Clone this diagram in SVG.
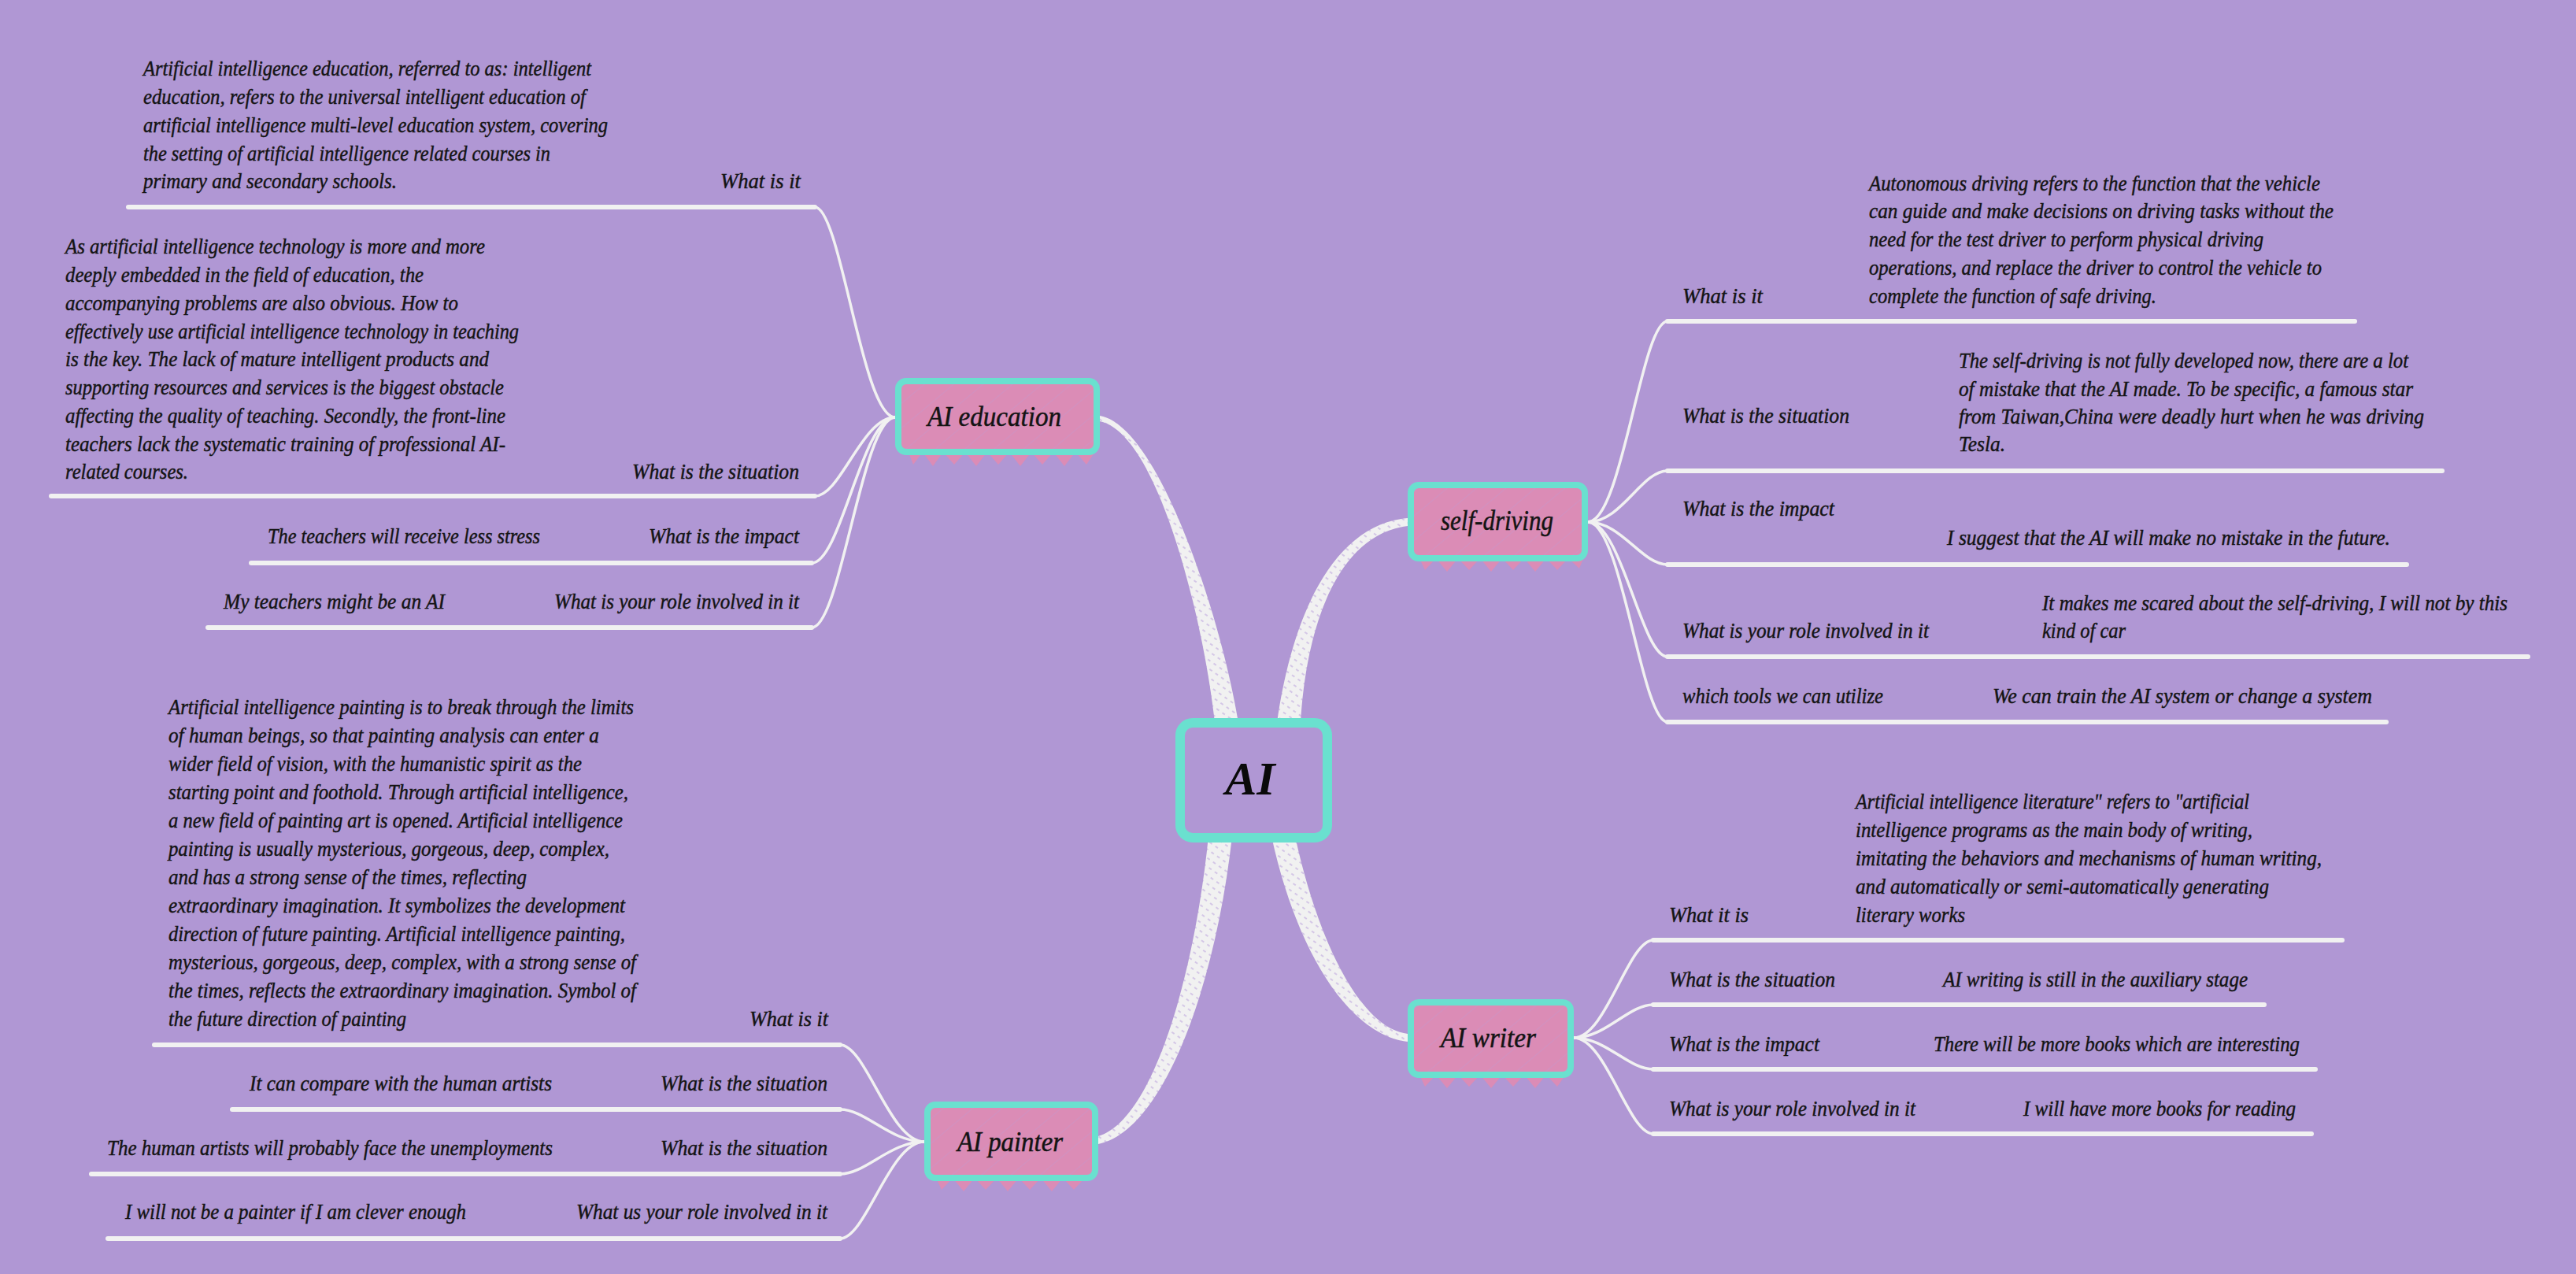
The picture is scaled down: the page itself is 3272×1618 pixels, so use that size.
<svg xmlns="http://www.w3.org/2000/svg" width="3272" height="1618" viewBox="0 0 3272 1618">
<style>
.t{font-family:"Liberation Serif","DejaVu Serif",serif;font-style:italic;font-size:27px;fill:#141414;stroke:#141414;stroke-width:0.45}
.n{font-family:"Liberation Serif","DejaVu Serif",serif;font-style:italic;font-size:36px;fill:#141414;stroke:#141414;stroke-width:0.5}
.c{font-family:"Liberation Serif","DejaVu Serif",serif;font-style:italic;font-weight:bold;font-size:60px;fill:#0a0a0a}
.ul{stroke:#f1f1f1;stroke-width:6;stroke-linecap:round;fill:none}
.fan{stroke:#f1f1f1;stroke-width:3.5;fill:none;stroke-linecap:round}
.main{fill:url(#hatch)}
.frame{stroke:#6ae0cf;stroke-width:8;fill:url(#pink)}
.teeth{fill:#db8cb6}
</style>
<defs>
<pattern id="hatch" patternUnits="userSpaceOnUse" width="9" height="9" patternTransform="rotate(35)">
<rect width="9" height="9" fill="#f1f1f1"/>
<line x1="0" y1="4" x2="4" y2="4" stroke="#c4b0e0" stroke-width="1.3"/>
</pattern>
<pattern id="pink" patternUnits="userSpaceOnUse" width="24" height="24" patternTransform="rotate(-40)">
<rect width="24" height="24" fill="#db8cb6"/>
<line x1="0" y1="0" x2="24" y2="0" stroke="#c996c8" stroke-width="1.2"/>
</pattern>
</defs>
<rect width="3272" height="1618" fill="#b097d4"/>

<g id="connectors">
<path class="main" d="M1397,528 C1470,540 1550,778 1573,918 L1543,918 C1528,782 1470,550 1397,535 Z"/>
<path class="main" d="M1788,658 C1696,666 1642,776 1622,918 L1652,918 C1660,784 1704,678 1788,668 Z"/>
<path class="main" d="M1535,1062 C1516,1248 1462,1424 1395,1443 L1395,1453 C1478,1436 1544,1252 1565,1062 Z"/>
<path class="main" d="M1615,1062 C1646,1205 1712,1314 1788,1323 L1788,1313 C1728,1306 1674,1195 1645,1062 Z"/>
<path class="fan" d="M1137,530 C1095,530 1068,263 1035,263"/>
<path class="fan" d="M1137,530 C1095,530 1068,630 1035,630"/>
<path class="fan" d="M1137,530 C1095,530 1068,715 1031,715"/>
<path class="fan" d="M1137,530 C1095,530 1068,797 1031,797"/>
<path class="fan" d="M2017,663 C2060,663 2085,408 2118,408"/>
<path class="fan" d="M2017,663 C2060,663 2085,598 2118,598"/>
<path class="fan" d="M2017,663 C2060,663 2085,717 2118,717"/>
<path class="fan" d="M2017,663 C2060,663 2085,834 2118,834"/>
<path class="fan" d="M2017,663 C2060,663 2085,917 2118,917"/>
<path class="fan" d="M1999,1318 C2040,1318 2068,1194 2100,1194"/>
<path class="fan" d="M1999,1318 C2040,1318 2068,1276 2100,1276"/>
<path class="fan" d="M1999,1318 C2040,1318 2068,1358 2100,1358"/>
<path class="fan" d="M1999,1318 C2040,1318 2068,1440 2100,1440"/>
<path class="fan" d="M1174,1450 C1130,1450 1100,1327 1067,1327"/>
<path class="fan" d="M1174,1450 C1130,1450 1100,1409 1067,1409"/>
<path class="fan" d="M1174,1450 C1130,1450 1100,1491 1067,1491"/>
<path class="fan" d="M1174,1450 C1130,1450 1100,1573 1067,1573"/>
</g>

<g id="node-ai">
<rect x="1499" y="918" width="187" height="146" rx="16" fill="#b097d4" stroke="#6ae0cf" stroke-width="12"/>
<text class="c" x="1588" y="1009" text-anchor="middle">AI</text>
</g>

<g id="node-education">
<polygon class="teeth" points="1153,572 1160,590 1172,574 1185,592 1198,574 1212,590 1226,574 1240,592 1254,574 1268,590 1282,574 1296,592 1310,574 1324,590 1338,574 1352,592 1366,574 1380,590 1392,572"/>
<rect class="frame" x="1141" y="484" width="252" height="90" rx="10"/>
<text class="n" x="1178" y="541" textLength="170" lengthAdjust="spacingAndGlyphs">AI education</text>
</g>

<g id="node-self-driving">
<polygon class="teeth" points="1802,707 1810,724 1824,709 1838,726 1852,709 1866,724 1880,709 1894,726 1908,709 1922,724 1936,709 1950,726 1964,709 1978,724 1992,709 2006,722 2012,707"/>
<rect class="frame" x="1792" y="616" width="221" height="93" rx="10"/>
<text class="n" x="1830" y="673" textLength="143" lengthAdjust="spacingAndGlyphs">self-driving</text>
</g>

<g id="node-writer">
<polygon class="teeth" points="1802,1363 1810,1380 1824,1365 1838,1382 1852,1365 1866,1380 1880,1365 1894,1382 1908,1365 1922,1380 1936,1365 1950,1382 1964,1365 1978,1380 1990,1363"/>
<rect class="frame" x="1792" y="1273" width="203" height="92" rx="10"/>
<text class="n" x="1830" y="1330" textLength="121" lengthAdjust="spacingAndGlyphs">AI writer</text>
</g>

<g id="node-painter">
<polygon class="teeth" points="1188,1494 1196,1511 1210,1496 1224,1513 1238,1496 1252,1511 1266,1496 1280,1513 1294,1496 1308,1511 1322,1496 1336,1513 1350,1496 1364,1511 1378,1496 1388,1494"/>
<rect class="frame" x="1178" y="1403" width="213" height="93" rx="10"/>
<text class="n" x="1216" y="1462" textLength="134" lengthAdjust="spacingAndGlyphs">AI painter</text>
</g>

<!-- AI education children -->
<g id="edu-what-is-it">
<path class="ul" d="M163,263 L1035,263"/>
<text class="t" x="915" y="239" textLength="102" lengthAdjust="spacingAndGlyphs">What is it</text>
<text class="t" x="182" y="96" textLength="569" lengthAdjust="spacingAndGlyphs">Artificial intelligence education, referred to as: intelligent</text>
<text class="t" x="182" y="132" textLength="562" lengthAdjust="spacingAndGlyphs">education, refers to the universal intelligent education of</text>
<text class="t" x="182" y="168" textLength="590" lengthAdjust="spacingAndGlyphs">artificial intelligence multi-level education system, covering</text>
<text class="t" x="182" y="204" textLength="517" lengthAdjust="spacingAndGlyphs">the setting of artificial intelligence related courses in</text>
<text class="t" x="182" y="239" textLength="322" lengthAdjust="spacingAndGlyphs">primary and secondary schools.</text>
</g>
<g id="edu-situation">
<path class="ul" d="M65,630 L1035,630"/>
<text class="t" x="803" y="608" textLength="212" lengthAdjust="spacingAndGlyphs">What is the situation</text>
<text class="t" x="83" y="322" textLength="533" lengthAdjust="spacingAndGlyphs">As artificial intelligence technology is more and more</text>
<text class="t" x="83" y="358" textLength="455" lengthAdjust="spacingAndGlyphs">deeply embedded in the field of education, the</text>
<text class="t" x="83" y="394" textLength="499" lengthAdjust="spacingAndGlyphs">accompanying problems are also obvious. How to</text>
<text class="t" x="83" y="430" textLength="576" lengthAdjust="spacingAndGlyphs">effectively use artificial intelligence technology in teaching</text>
<text class="t" x="83" y="465" textLength="538" lengthAdjust="spacingAndGlyphs">is the key. The lack of mature intelligent products and</text>
<text class="t" x="83" y="501" textLength="557" lengthAdjust="spacingAndGlyphs">supporting resources and services is the biggest obstacle</text>
<text class="t" x="83" y="537" textLength="559" lengthAdjust="spacingAndGlyphs">affecting the quality of teaching. Secondly, the front-line</text>
<text class="t" x="83" y="573" textLength="559" lengthAdjust="spacingAndGlyphs">teachers lack the systematic training of professional AI-</text>
<text class="t" x="83" y="608" textLength="156" lengthAdjust="spacingAndGlyphs">related courses.</text>
</g>
<g id="edu-impact">
<path class="ul" d="M319,715 L1031,715"/>
<text class="t" x="824" y="690" textLength="191" lengthAdjust="spacingAndGlyphs">What is the impact</text>
<text class="t" x="340" y="690" textLength="346" lengthAdjust="spacingAndGlyphs">The teachers will receive less stress</text>
</g>
<g id="edu-role">
<path class="ul" d="M264,797 L1031,797"/>
<text class="t" x="704" y="773" textLength="311" lengthAdjust="spacingAndGlyphs">What is your role involved in it</text>
<text class="t" x="284" y="773" textLength="281" lengthAdjust="spacingAndGlyphs">My teachers might be an AI</text>
</g>

<!-- self-driving children -->
<g id="sd-what-is-it">
<path class="ul" d="M2118,408 L2991,408"/>
<text class="t" x="2137" y="385" textLength="102" lengthAdjust="spacingAndGlyphs">What is it</text>
<text class="t" x="2374" y="242" textLength="573" lengthAdjust="spacingAndGlyphs">Autonomous driving refers to the function that the vehicle</text>
<text class="t" x="2374" y="277" textLength="590" lengthAdjust="spacingAndGlyphs">can guide and make decisions on driving tasks without the</text>
<text class="t" x="2374" y="313" textLength="501" lengthAdjust="spacingAndGlyphs">need for the test driver to perform physical driving</text>
<text class="t" x="2374" y="349" textLength="575" lengthAdjust="spacingAndGlyphs">operations, and replace the driver to control the vehicle to</text>
<text class="t" x="2374" y="385" textLength="365" lengthAdjust="spacingAndGlyphs">complete the function of safe driving.</text>
</g>
<g id="sd-situation">
<path class="ul" d="M2118,598 L3102,598"/>
<text class="t" x="2137" y="537" textLength="212" lengthAdjust="spacingAndGlyphs">What is the situation</text>
<text class="t" x="2488" y="467" textLength="571" lengthAdjust="spacingAndGlyphs">The self-driving is not fully developed now, there are a lot</text>
<text class="t" x="2488" y="503" textLength="577" lengthAdjust="spacingAndGlyphs">of mistake that the AI made. To be specific, a famous star</text>
<text class="t" x="2488" y="538" textLength="591" lengthAdjust="spacingAndGlyphs">from Taiwan,China were deadly hurt when he was driving</text>
<text class="t" x="2488" y="573" textLength="59" lengthAdjust="spacingAndGlyphs">Tesla.</text>
</g>
<g id="sd-impact">
<path class="ul" d="M2118,717 L3057,717"/>
<text class="t" x="2137" y="655" textLength="193" lengthAdjust="spacingAndGlyphs">What is the impact</text>
<text class="t" x="2473" y="692" textLength="563" lengthAdjust="spacingAndGlyphs">I suggest that the AI will make no mistake in the future.</text>
</g>
<g id="sd-role">
<path class="ul" d="M2118,834 L3211,834"/>
<text class="t" x="2137" y="810" textLength="313" lengthAdjust="spacingAndGlyphs">What is your role involved in it</text>
<text class="t" x="2594" y="775" textLength="591" lengthAdjust="spacingAndGlyphs">It makes me scared about the self-driving, I will not by this</text>
<text class="t" x="2594" y="810" textLength="106" lengthAdjust="spacingAndGlyphs">kind of car</text>
</g>
<g id="sd-tools">
<path class="ul" d="M2118,917 L3031,917"/>
<text class="t" x="2137" y="893" textLength="255" lengthAdjust="spacingAndGlyphs">which tools we can utilize</text>
<text class="t" x="2531" y="893" textLength="482" lengthAdjust="spacingAndGlyphs">We can train the AI system or change a system</text>
</g>

<!-- AI writer children -->
<g id="wr-what-it-is">
<path class="ul" d="M2100,1194 L2975,1194"/>
<text class="t" x="2120" y="1171" textLength="101" lengthAdjust="spacingAndGlyphs">What it is</text>
<text class="t" x="2357" y="1027" textLength="500" lengthAdjust="spacingAndGlyphs">Artificial intelligence literature" refers to "artificial</text>
<text class="t" x="2357" y="1063" textLength="504" lengthAdjust="spacingAndGlyphs">intelligence programs as the main body of writing,</text>
<text class="t" x="2357" y="1099" textLength="592" lengthAdjust="spacingAndGlyphs">imitating the behaviors and mechanisms of human writing,</text>
<text class="t" x="2357" y="1135" textLength="525" lengthAdjust="spacingAndGlyphs">and automatically or semi-automatically generating</text>
<text class="t" x="2357" y="1171" textLength="139" lengthAdjust="spacingAndGlyphs">literary works</text>
</g>
<g id="wr-situation">
<path class="ul" d="M2100,1276 L2876,1276"/>
<text class="t" x="2120" y="1253" textLength="211" lengthAdjust="spacingAndGlyphs">What is the situation</text>
<text class="t" x="2468" y="1253" textLength="387" lengthAdjust="spacingAndGlyphs">AI writing is still in the auxiliary stage</text>
</g>
<g id="wr-impact">
<path class="ul" d="M2100,1358 L2941,1358"/>
<text class="t" x="2120" y="1335" textLength="191" lengthAdjust="spacingAndGlyphs">What is the impact</text>
<text class="t" x="2456" y="1335" textLength="465" lengthAdjust="spacingAndGlyphs">There will be more books which are interesting</text>
</g>
<g id="wr-role">
<path class="ul" d="M2100,1440 L2936,1440"/>
<text class="t" x="2120" y="1417" textLength="313" lengthAdjust="spacingAndGlyphs">What is your role involved in it</text>
<text class="t" x="2570" y="1417" textLength="346" lengthAdjust="spacingAndGlyphs">I will have more books for reading</text>
</g>

<!-- AI painter children -->
<g id="pa-what-is-it">
<path class="ul" d="M196,1327 L1067,1327"/>
<text class="t" x="952" y="1303" textLength="100" lengthAdjust="spacingAndGlyphs">What is it</text>
<text class="t" x="214" y="907" textLength="591" lengthAdjust="spacingAndGlyphs">Artificial intelligence painting is to break through the limits</text>
<text class="t" x="214" y="943" textLength="547" lengthAdjust="spacingAndGlyphs">of human beings, so that painting analysis can enter a</text>
<text class="t" x="214" y="979" textLength="525" lengthAdjust="spacingAndGlyphs">wider field of vision, with the humanistic spirit as the</text>
<text class="t" x="214" y="1015" textLength="584" lengthAdjust="spacingAndGlyphs">starting point and foothold. Through artificial intelligence,</text>
<text class="t" x="214" y="1051" textLength="577" lengthAdjust="spacingAndGlyphs">a new field of painting art is opened. Artificial intelligence</text>
<text class="t" x="214" y="1087" textLength="560" lengthAdjust="spacingAndGlyphs">painting is usually mysterious, gorgeous, deep, complex,</text>
<text class="t" x="214" y="1123" textLength="455" lengthAdjust="spacingAndGlyphs">and has a strong sense of the times, reflecting</text>
<text class="t" x="214" y="1159" textLength="580" lengthAdjust="spacingAndGlyphs">extraordinary imagination. It symbolizes the development</text>
<text class="t" x="214" y="1195" textLength="580" lengthAdjust="spacingAndGlyphs">direction of future painting. Artificial intelligence painting,</text>
<text class="t" x="214" y="1231" textLength="594" lengthAdjust="spacingAndGlyphs">mysterious, gorgeous, deep, complex, with a strong sense of</text>
<text class="t" x="214" y="1267" textLength="594" lengthAdjust="spacingAndGlyphs">the times, reflects the extraordinary imagination. Symbol of</text>
<text class="t" x="214" y="1303" textLength="302" lengthAdjust="spacingAndGlyphs">the future direction of painting</text>
</g>
<g id="pa-situation-1">
<path class="ul" d="M295,1409 L1067,1409"/>
<text class="t" x="839" y="1385" textLength="212" lengthAdjust="spacingAndGlyphs">What is the situation</text>
<text class="t" x="317" y="1385" textLength="384" lengthAdjust="spacingAndGlyphs">It can compare with the human artists</text>
</g>
<g id="pa-situation-2">
<path class="ul" d="M116,1491 L1067,1491"/>
<text class="t" x="839" y="1467" textLength="212" lengthAdjust="spacingAndGlyphs">What is the situation</text>
<text class="t" x="136" y="1467" textLength="566" lengthAdjust="spacingAndGlyphs">The human artists will probably face the unemployments</text>
</g>
<g id="pa-role">
<path class="ul" d="M137,1573 L1067,1573"/>
<text class="t" x="732" y="1548" textLength="319" lengthAdjust="spacingAndGlyphs">What us your role involved in it</text>
<text class="t" x="159" y="1548" textLength="433" lengthAdjust="spacingAndGlyphs">I will not be a painter if I am clever enough</text>
</g>
</svg>
